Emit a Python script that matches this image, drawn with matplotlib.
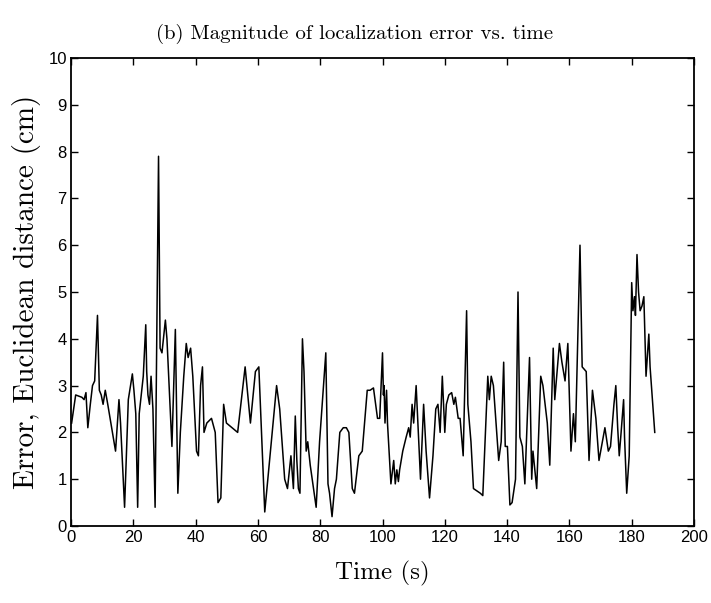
import matplotlib
matplotlib.use("Agg")
import matplotlib.pyplot as plt

# Localization error magnitude
time_s = [
    0.2, 1.5, 3.5, 4.2, 4.8, 5.4, 6.2, 6.9, 7.6, 8.5, 9.1, 9.7, 10.3, 11.0, 11.8,
    14.3, 15.4, 15.9, 17.2, 18.4, 19.1, 19.7, 20.2, 20.8, 21.4, 21.9, 22.4, 23.2,
    24.0, 24.3, 24.7, 25.2, 25.7, 26.3, 27.0, 28.1, 28.6, 29.2, 30.3, 30.8, 32.4,
    33.5, 34.3, 35.1, 36.2, 37.0, 37.6, 38.4, 39.1, 40.3, 40.9, 41.6, 42.2, 42.7,
    43.6, 45.1, 46.3, 47.2, 48.1, 49.0, 49.9, 53.5, 55.9, 57.6, 59.2, 60.3, 62.2,
    64.3, 66.0, 67.0, 68.6, 69.5, 70.6, 71.4, 72.0, 72.5, 73.0, 73.5, 74.3, 74.8,
    75.5, 76.0, 76.8, 78.7, 79.8, 81.8, 82.5, 83.0, 83.8, 84.6, 85.2, 86.3, 87.4,
    88.4, 89.2, 90.3, 91.0, 92.4, 93.5, 95.1, 96.0, 97.1, 98.4, 99.1, 100.0,
    100.3, 100.5, 100.8, 101.3, 101.6, 102.7, 103.6, 104.1, 104.6, 105.1, 105.5,
    106.5, 107.6, 108.4, 108.9, 109.5, 110.0, 110.8, 111.3, 112.2, 113.2, 114.0,
    115.1, 116.2, 117.1, 117.8, 118.5, 119.2, 120.0, 120.5, 121.3, 122.2, 122.9,
    123.4, 124.3, 124.9, 125.9, 127.0, 127.4, 128.4, 129.2, 131.4, 132.2, 133.8,
    134.3, 134.9, 135.6, 137.3, 138.1, 138.9, 139.4, 140.1, 140.9, 141.6, 142.7,
    143.5, 144.1, 144.9, 145.7, 147.2, 147.9, 148.3, 149.5, 150.8, 151.5, 152.9,
    153.7, 154.8, 155.3, 156.8, 157.6, 158.6, 159.5, 160.5, 161.3, 161.9, 163.4,
    164.1, 165.4, 166.3, 167.4, 168.5, 169.5, 170.3, 171.4, 172.5, 173.2, 174.3,
    174.9, 175.5, 176.0, 176.6, 177.4, 177.7, 178.4, 179.2, 180.0, 180.4, 180.9,
    181.2, 181.7, 182.2, 182.7, 183.3, 183.9, 184.6, 185.5, 185.9, 187.4,
]
error_cm = [
    2.2, 2.8, 2.75, 2.7, 2.85, 2.1, 2.6, 3.0, 3.1, 4.5, 2.9, 2.8, 2.6, 2.9, 2.6,
    1.6, 2.7, 2.2, 0.4, 2.7, 3.0, 3.25, 2.9, 2.4, 0.4, 2.4, 2.7, 3.2,
    4.3, 3.3, 2.8, 2.6, 3.2, 2.5, 0.4, 7.9, 3.8, 3.7, 4.4, 4.0, 1.7,
    4.2, 0.7, 2.0, 3.2, 3.9, 3.6, 3.8, 3.2, 1.6, 1.5, 3.0, 3.4, 2.0,
    2.2, 2.3, 2.0, 0.5, 0.6, 2.6, 2.2, 2.0, 3.4, 2.2, 3.3, 3.4, 0.3,
    1.8, 3.0, 2.5, 1.0, 0.8, 1.5, 0.8, 2.35, 1.4, 0.8, 0.7, 4.0, 3.3,
    1.6, 1.8, 1.3, 0.4, 1.8, 3.7, 0.9, 0.7, 0.2, 0.8, 1.0, 2.0, 2.1,
    2.1, 2.0, 0.8, 0.7, 1.5, 1.6, 2.9, 2.9, 2.95, 2.3, 2.3, 3.7,
    2.8, 3.0, 2.2, 2.9, 2.2, 0.9, 1.4, 0.9, 1.2, 0.95, 1.2,
    1.6, 1.9, 2.1, 1.9, 2.6, 2.2, 3.0, 2.3, 1.0, 2.6, 1.6,
    0.6, 1.5, 2.5, 2.6, 2.0, 3.2, 2.0, 2.6, 2.8, 2.85, 2.6,
    2.75, 2.3, 2.3, 1.5, 4.6, 2.6, 1.8, 0.8, 0.7, 0.65, 3.2,
    2.7, 3.2, 3.0, 1.4, 1.8, 3.5, 1.7, 1.7, 0.45, 0.5, 1.0,
    5.0, 1.9, 1.7, 0.9, 3.6, 1.0, 1.6, 0.8, 3.2, 3.0, 2.2,
    1.3, 3.8, 2.7, 3.9, 3.5, 3.1, 3.9, 1.6, 2.4, 1.8, 6.0,
    3.4, 3.3, 1.4, 2.9, 2.3, 1.4, 1.7, 2.1, 1.6, 1.7, 2.6,
    3.0, 2.1, 1.5, 2.0, 2.7, 1.9, 0.7, 1.5, 5.2, 4.6, 4.9,
    4.5, 5.8, 5.0, 4.6, 4.7, 4.9, 3.2, 4.1, 3.4, 2.0,
]

x_ticks = [0, 20, 40, 60, 80, 100, 120, 140, 160, 180, 200]
y_ticks = [0, 1, 2, 3, 4, 5, 6, 7, 8, 9, 10]

serif = "cmr10"

fig = plt.figure(figsize=(7.11, 6.03), dpi=100)
ax = fig.add_axes([71 / 711, 1 - 526 / 603, 623 / 711, 468 / 603])

ax.plot(time_s, error_cm, color="black", linewidth=1.1)

ax.set_xlim(0, 200)
ax.set_ylim(0, 10)
ax.set_xticks(x_ticks)
ax.set_yticks(y_ticks)
ax.tick_params(direction="in", top=True, right=True, length=5, width=1,
               labelsize=12, pad=3)
for lab in ax.get_xticklabels() + ax.get_yticklabels():
    lab.set_fontfamily("Liberation Sans")
for sp in ax.spines.values():
    sp.set_linewidth(1.3)

# title sits a bit left of the axes centre in the original
ax.set_title("(b) Magnitude of localization error vs. time",
             fontfamily=serif, fontsize=15, pad=14, x=0.455)
ax.set_xlabel("Time (s)", fontfamily=serif, fontsize=18, labelpad=11)
ax.set_ylabel("Error, Euclidean distance (cm)", fontfamily=serif, fontsize=21,
              labelpad=5)

fig.savefig("out.png", dpi=100)
